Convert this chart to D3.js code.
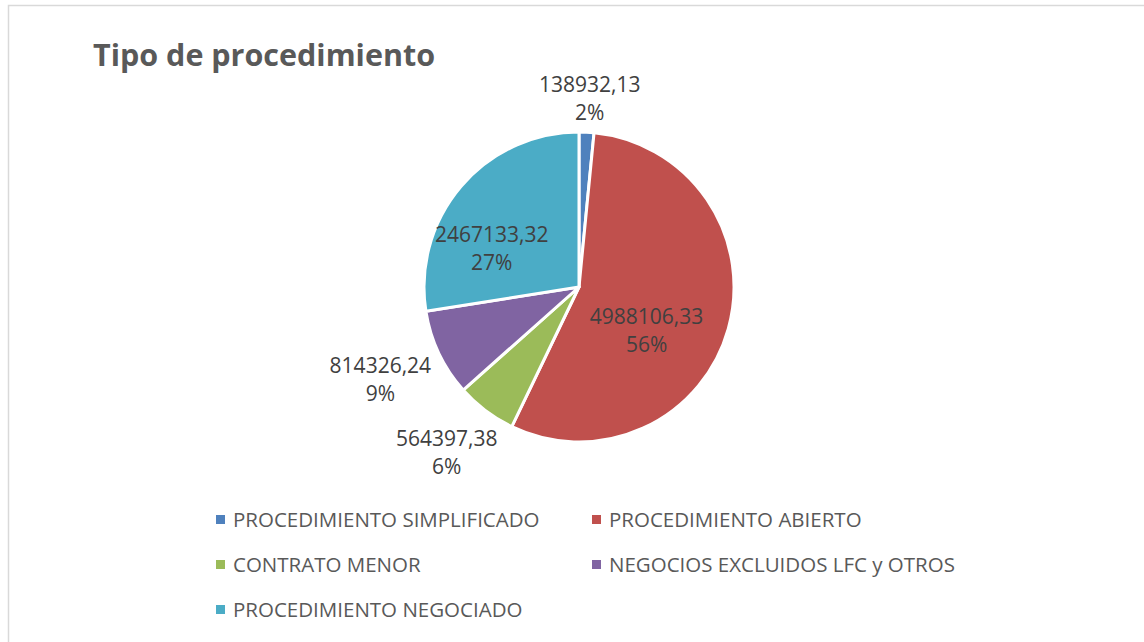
<!DOCTYPE html>
<html>
<head>
<meta charset="utf-8">
<script src="https://cdn.jsdelivr.net/npm/d3@7"></script>
<style>
  html, body { margin: 0; padding: 0; background: #fff; }
  svg { display: block; font-family: "Open Sans", "Liberation Sans", sans-serif; }
</style>
</head>
<body>
<div id="chart"></div>
<script>
// datos
const categories = [
  "PROCEDIMIENTO SIMPLIFICADO",
  "PROCEDIMIENTO ABIERTO",
  "CONTRATO MENOR",
  "NEGOCIOS EXCLUIDOS LFC y OTROS",
  "PROCEDIMIENTO NEGOCIADO"
];
const values = [138932.13, 4988106.33, 564397.38, 814326.24, 2467133.32];
const valueLabels = ["138932,13", "4988106,33", "564397,38", "814326,24", "2467133,32"];
const labelInside = [false, true, false, false, true];
const colors = ["#4F81BD", "#C0504D", "#9BBB59", "#8064A2", "#4BACC6"];

const width = 1144, height = 642;
const cx = 579, cy = 287, radius = 155;

const svg = d3.select("#chart").append("svg")
  .attr("width", width)
  .attr("height", height);

// marco del gráfico
svg.append("rect")
  .attr("x", 8.5).attr("y", 5.5)
  .attr("width", 1150).attr("height", 660)
  .attr("fill", "#fff")
  .attr("stroke", "#d9d9d9")
  .attr("stroke-width", 1.5);

svg.append("text")
  .attr("x", 93).attr("y", 66)
  .attr("fill", "#595959")
  .attr("font-size", 30.5)
  .attr("font-weight", "bold")
  .text("Tipo de procedimiento");

const data = categories.map((c, i) => ({ cat: c, value: values[i], label: valueLabels[i], inside: labelInside[i], color: colors[i] }));
const total = d3.sum(values);

const pie = d3.pie().value(d => d.value).sort(null);
const arc = d3.arc().innerRadius(0).outerRadius(radius);
const arcs = pie(data);

const g = svg.append("g").attr("transform", `translate(${cx},${cy})`);

g.selectAll("path.slice")
  .data(arcs)
  .enter().append("path")
  .attr("class", "slice")
  .attr("d", arc)
  .attr("fill", d => d.data.color)
  .attr("stroke", "#fff")
  .attr("stroke-width", 3)
  .attr("stroke-linejoin", "round");

// etiquetas
const fs = 21, lh = 28;
const labels = g.selectAll("g.lbl")
  .data(arcs)
  .enter().append("g")
  .attr("class", "lbl");

labels.each(function(d) {
  const sel = d3.select(this);
  const pct = Math.round(d.data.value / total * 100) + "%";
  const t = sel.append("text")
    .attr("text-anchor", "middle")
    .attr("fill", "#404040")
    .attr("font-size", fs);
  t.append("tspan").attr("x", 0).attr("y", -lh / 2 + 7).text(d.data.label);
  t.append("tspan").attr("x", 0).attr("y", lh / 2 + 7).text(pct);

  const mid = (d.startAngle + d.endAngle) / 2;
  const sx = Math.sin(mid), sy = -Math.cos(mid);
  let px, py;
  if (d.data.inside) {
    const r = radius * 0.58;
    px = sx * r - 19; py = sy * r + 20;
  } else {
    const bb = t.node().getBBox();
    const r = radius + 14;
    px = sx * r + sx * bb.width / 2;
    py = sy * r + sy * bb.height / 2 + 9;
  }
  sel.attr("transform", `translate(${px},${py})`);
});

// leyenda
const legendCols = [218, 594];
const legendRows = [520, 565, 610];
const legend = svg.selectAll("g.leg")
  .data(data)
  .enter().append("g")
  .attr("class", "leg")
  .attr("transform", (d, i) => `translate(${legendCols[i % 2]},${legendRows[Math.floor(i / 2)]})`);

legend.append("rect")
  .attr("x", -2).attr("y", -5)
  .attr("width", 9).attr("height", 9)
  .attr("fill", d => d.color);

legend.append("text")
  .attr("x", 15).attr("y", 7)
  .attr("fill", "#595959")
  .attr("font-size", 20.5)
  .text(d => d.cat);
</script>
</body>
</html>
